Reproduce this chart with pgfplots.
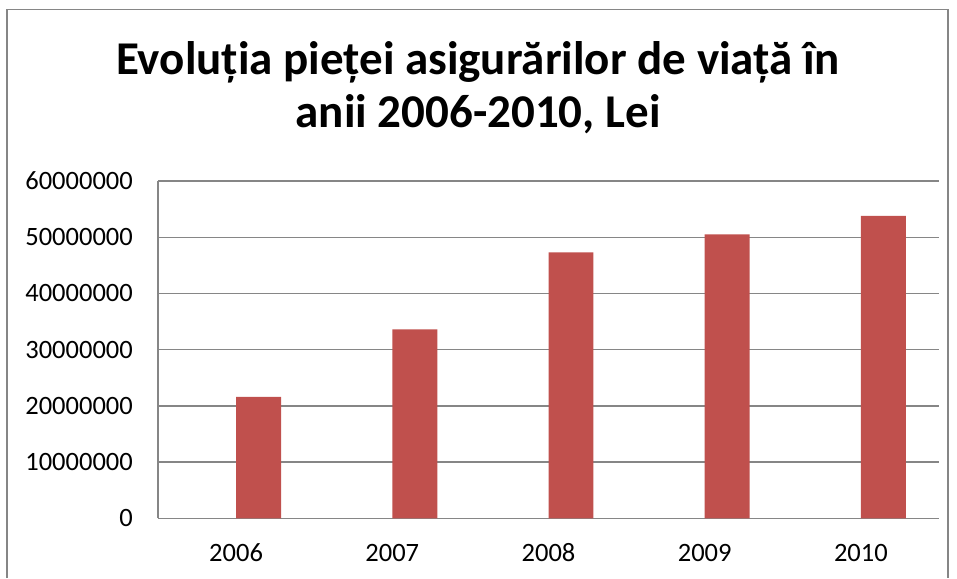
\documentclass[border=0pt]{standalone}
\usepackage{fontspec}
\setmainfont{Carlito}
\usepackage{pgfplots}
\pgfplotsset{compat=1.18}
\definecolor{barred}{HTML}{C0504D}
\definecolor{gridgray}{HTML}{868686}
\begin{document}
\begin{tikzpicture}
\useasboundingbox (0pt,0pt) rectangle (957pt,578pt);
\draw[gridgray, line width=1.3pt] (7pt,0pt) -- (7pt,568.7pt) -- (948pt,568.7pt) -- (948pt,0pt);
\node[font=\fontsize{47}{56}\selectfont\bfseries, anchor=base, inner sep=0pt] at (478pt,503pt) {Evoluția pieței asigurărilor de viață în};
\node[font=\fontsize{47}{56}\selectfont\bfseries, anchor=base, inner sep=0pt] at (478pt,450pt) {anii 2006-2010, Lei};
\begin{axis}[
  at={(158pt,59.7pt)}, anchor=south west,
  width=781pt, height=337.3pt, scale only axis,
  xmin=-0.5, xmax=4.5, ymin=0, ymax=60000000,
  scaled y ticks=false,
  axis x line*=bottom, axis y line*=left,
  axis line style={gridgray, line width=1.3pt, -},
  xtick={0,1,2,3,4}, xticklabels={2006,2007,2008,2009,2010},
  ytick={0,10000000,20000000,30000000,40000000,50000000,60000000},
  yticklabels={0,10000000,20000000,30000000,40000000,50000000,60000000},
  major tick length=0pt,
  ymajorgrids, grid style={gridgray, line width=1.3pt},
  tick label style={font=\fontsize{26.5}{31}\selectfont, inner sep=0pt},
  xticklabel style={anchor=base, yshift=-43.5pt},
  yticklabel style={anchor=east, xshift=-25pt},
  /pgf/number format/assume math mode=true,
]
\addplot[ybar, bar width=0.288, bar shift=0.144, fill=barred, draw=none]
  coordinates {(0,21600000) (1,33600000) (2,47300000) (3,50500000) (4,53800000)};
\end{axis}
\end{tikzpicture}
\end{document}
